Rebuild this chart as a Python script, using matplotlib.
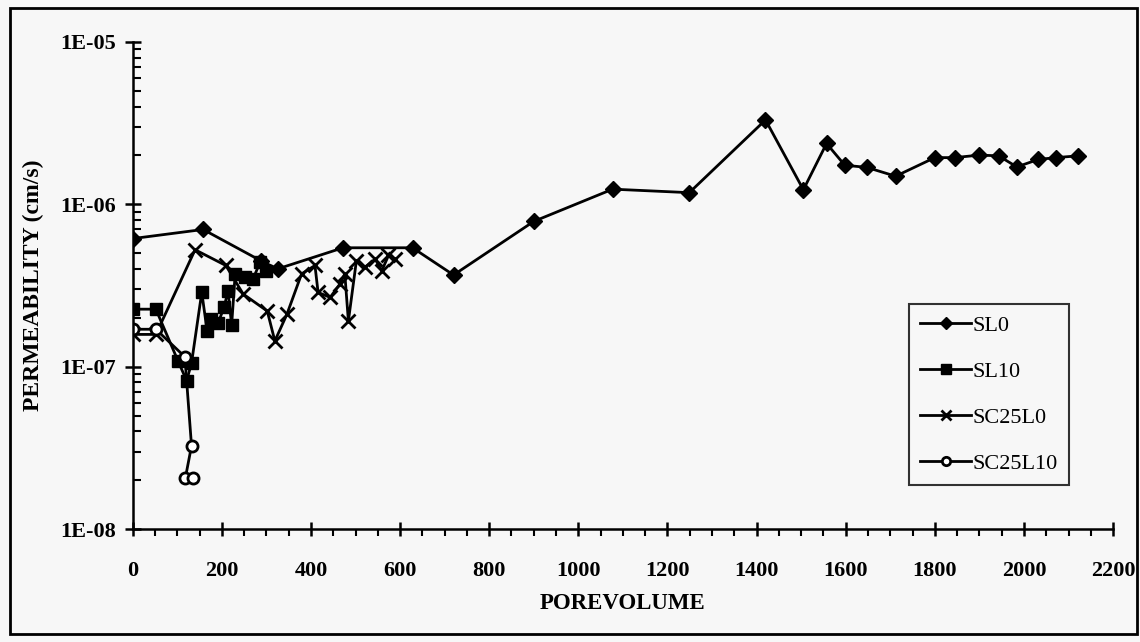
import matplotlib
matplotlib.use("Agg")
import matplotlib.pyplot as plt
from matplotlib.ticker import MultipleLocator, LogLocator, FuncFormatter, NullFormatter
from matplotlib.patches import Rectangle
import numpy as np

# data
sl0_x = [0, 158, 287, 325, 472, 628, 720, 900, 1077, 1249, 1420, 1505, 1557, 1598,
         1647, 1712, 1800, 1845, 1899, 1943, 1984, 2032, 2072, 2122]
sl0_y = [6.15e-7, 7.0e-7, 4.5e-7, 4.0e-7, 5.4e-7, 5.4e-7, 3.67e-7, 7.85e-7, 1.24e-6,
         1.18e-6, 3.31e-6, 1.23e-6, 2.37e-6, 1.74e-6, 1.69e-6, 1.49e-6, 1.94e-6,
         1.94e-6, 2.01e-6, 1.99e-6, 1.70e-6, 1.89e-6, 1.94e-6, 1.99e-6]

sl10_x = [0, 52, 102, 121, 132, 155, 167, 175, 192, 205, 214, 222, 230, 252, 270, 286, 300]
sl10_y = [2.26e-7, 2.26e-7, 1.08e-7, 8.2e-8, 1.05e-7, 2.87e-7, 1.66e-7, 1.96e-7, 1.87e-7,
          2.32e-7, 2.94e-7, 1.8e-7, 3.73e-7, 3.56e-7, 3.47e-7, 4.4e-7, 3.9e-7]

sc25l0_x = [0, 52, 140, 209, 248, 302, 319, 346, 379, 409, 416, 443, 465, 476, 484,
            502, 521, 544, 559, 574, 589]
sc25l0_y = [1.58e-7, 1.58e-7, 5.25e-7, 4.2e-7, 2.8e-7, 2.2e-7, 1.44e-7, 2.1e-7, 3.73e-7,
            4.2e-7, 2.87e-7, 2.67e-7, 3.23e-7, 3.73e-7, 1.91e-7, 4.5e-7, 4.1e-7, 4.6e-7,
            3.9e-7, 4.84e-7, 4.6e-7]

sc25l10_x = [0, 52, 117, 132, 118, 135]
sc25l10_y = [1.7e-7, 1.7e-7, 1.15e-7, 3.25e-8, 2.05e-8, 2.05e-8]

bg = "#f7f7f7"
plt.rcParams["font.family"] = ["Liberation Serif", "DejaVu Serif"]

fig = plt.figure(figsize=(11.4, 6.42), dpi=100, facecolor=bg)
ax = fig.add_axes([0.1164, 0.176, 0.86, 0.7586], facecolor=bg)

ax.plot(sl0_x, sl0_y, color="black", lw=2, marker="D", ms=8, label="SL0")
ax.plot(sl10_x, sl10_y, color="black", lw=2, marker="s", ms=9, label="SL10")
ax.plot(sc25l0_x, sc25l0_y, color="black", lw=2, marker="x", ms=10, mew=2, label="SC25L0")
ax.plot(sc25l10_x, sc25l10_y, color="black", lw=2, marker="o", ms=8, mew=2,
        mfc="white", label="SC25L10")

ax.set_yscale("log")
ax.set_xlim(0, 2200)
ax.set_ylim(1e-8, 1e-5)

for s in ["top", "right"]:
    ax.spines[s].set_visible(False)
for s in ["left", "bottom"]:
    ax.spines[s].set_linewidth(1.8)

ax.xaxis.set_major_locator(MultipleLocator(200))
ax.xaxis.set_minor_locator(MultipleLocator(50))
ax.yaxis.set_major_locator(LogLocator(base=10))
ax.yaxis.set_minor_locator(LogLocator(base=10, subs=np.arange(2, 10)))
ax.yaxis.set_minor_formatter(NullFormatter())
ax.yaxis.set_major_formatter(FuncFormatter(lambda v, p: "1E-%02d" % round(-np.log10(v))))

ax.tick_params(axis="x", which="major", direction="inout", length=10, width=1.8, pad=18)
ax.tick_params(axis="x", which="minor", direction="out", length=5, width=1.5)
ax.tick_params(axis="y", which="major", direction="inout", length=12, width=1.8, pad=6)
ax.tick_params(axis="y", which="minor", direction="in", length=6, width=1.5)
for lab in ax.get_xticklabels() + ax.get_yticklabels():
    lab.set_fontsize(16)
    lab.set_fontweight("bold")

ax.set_xlabel("POREVOLUME", fontsize=16.5, fontweight="bold", labelpad=9)
ax.set_ylabel("PERMEABILITY (cm/s)", fontsize=17, fontweight="bold", labelpad=12)

leg = ax.legend(loc="upper left", bbox_to_anchor=(0.792, 0.462), borderaxespad=0,
                fontsize=16, frameon=True, fancybox=False, handlelength=2.3,
                handletextpad=0.05, labelspacing=1.15, markerscale=0.75,
                borderpad=0.5)
leg.get_frame().set_edgecolor("black")
leg.get_frame().set_linewidth(1.5)
leg.get_frame().set_facecolor(bg)

fig.patches.append(Rectangle((0.009, 0.012), 0.988, 0.976, transform=fig.transFigure,
                             fill=False, edgecolor="black", linewidth=2))

fig.savefig("out.png", dpi=100, facecolor=bg)
